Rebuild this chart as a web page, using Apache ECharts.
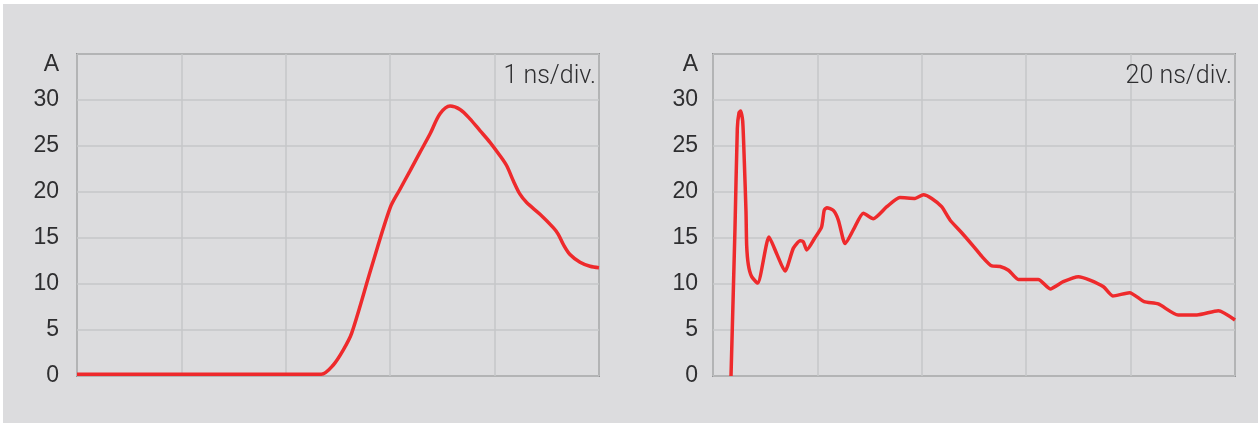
<!DOCTYPE html>
<html>
<head>
<meta charset="utf-8">
<script src="https://cdn.jsdelivr.net/npm/echarts@6/dist/echarts.min.js"></script>
<style>
html,body{margin:0;padding:0;background:#ffffff;}
#bg{position:absolute;left:3px;top:4px;width:1255px;height:419px;background:#dcdcde;}
#chart{position:absolute;left:0;top:0;width:1258px;height:423px;}
</style>
</head>
<body>
<div id="bg"></div>
<div id="chart"></div>
<script>
// Left panel: 1 ns/div
var leftTime    = [0, 2.34, 2.455, 2.551, 2.631, 2.82, 3.0, 3.094, 3.19, 3.285, 3.381, 3.477, 3.573, 3.669, 3.764, 3.86, 3.956, 4.052, 4.116, 4.18, 4.243, 4.307, 4.435, 4.562, 4.61, 4.658, 4.722, 4.818, 4.914, 5.0];
var leftCurrent = [0.2, 0.2, 1.2, 2.84, 4.66, 11.8, 18.3, 20.3, 22.3, 24.3, 26.3, 28.5, 29.35, 28.97, 27.95, 26.67, 25.4, 23.94, 22.85, 21.2, 19.76, 18.85, 17.58, 16.12, 15.4, 14.3, 13.2, 12.37, 11.93, 11.76];

// Right panel: 20 ns/div
var rightTime    = [3.45, 4.21, 4.66, 4.98, 5.3, 5.69, 6.0, 6.32, 6.45, 6.77, 7.41, 8.56, 10.73, 12.2, 13.8, 15.4, 16.7, 17.3, 17.95, 19.5, 20.8, 21.3, 21.8, 23.05, 24.0, 24.96, 25.3, 26.9, 28.8, 30.7, 33.3, 35.8, 38.7, 40.3, 41.9, 43.8, 45.4, 47.6, 49.9, 51.5, 53.4, 55.0, 56.6, 58.5, 62.3, 64.6, 67.1, 70.0, 72.2, 74.8, 76.6, 79.8, 82.6, 85.3, 89.1, 92.7, 96.8, 100];
var rightCurrent = [0, 16, 26.9, 28.6, 28.8, 27.7, 23.3, 17.9, 14.2, 12.1, 10.8, 10.1, 15.1, 13.3, 11.4, 13.9, 14.7, 14.6, 13.7, 15.0, 16.2, 18.0, 18.3, 18.0, 16.96, 14.8, 14.4, 15.9, 17.7, 17.1, 18.4, 19.4, 19.3, 19.7, 19.3, 18.4, 16.96, 15.6, 14.1, 13.0, 11.96, 11.9, 11.5, 10.5, 10.5, 9.46, 10.25, 10.8, 10.43, 9.7, 8.7, 9.06, 8.08, 7.83, 6.63, 6.63, 7.1, 6.09];

var yTicks = [0, 5, 10, 15, 20, 25, 30];
var unitLabel = 'A';
var panelLabels = ['1 ns/div.', '20 ns/div.'];
var xMax = [5, 100];
var xInterval = [1, 20];

function pairs(xs, ys) { return xs.map(function (x, i) { return [x, ys[i]]; }); }

var gridColor = '#c6c7c9';
var textColor = '#2e2e30';
var lineColor = '#ee2a2c';

function gridOpt(left) {
  return { left: left, top: 54, width: 522, height: 322, show: true, borderColor: '#5a5a5c', borderWidth: 1.5, backgroundColor: 'transparent', containLabel: false, outerBoundsMode: 'none' };
}
function xAxisOpt(idx) {
  return {
    type: 'value', gridIndex: idx, min: 0, max: xMax[idx], interval: xInterval[idx],
    axisLine: { show: false }, axisTick: { show: false }, axisLabel: { show: false },
    splitLine: { show: true, lineStyle: { color: gridColor, width: 1.5 } }
  };
}
function yAxisOpt(idx, margin) {
  return {
    type: 'value', gridIndex: idx, min: 0, max: 35, interval: 5,
    axisLine: { show: false }, axisTick: { show: false },
    axisLabel: {
      margin: margin, color: textColor, fontSize: 23, fontFamily: '"Liberation Sans", Arial, sans-serif',
      padding: [8, 0, 0, 0],
      formatter: function (v) { return yTicks.indexOf(v) >= 0 ? String(v) : ''; }
    },
    splitLine: { show: true, lineStyle: { color: gridColor, width: 1.5 } }
  };
}
function textEl(txt, x, y, font) {
  return { type: 'text', z: 100, x: x, y: y, style: { text: txt, fill: textColor, font: font, textAlign: 'right', textVerticalAlign: 'middle' } };
}

var chart = echarts.init(document.getElementById('chart'), null, { renderer: 'canvas' });
chart.setOption({
  backgroundColor: 'transparent',
  animation: false,
  grid: [gridOpt(77), gridOpt(713)],
  xAxis: [xAxisOpt(0), xAxisOpt(1)],
  yAxis: [yAxisOpt(0, 18), yAxisOpt(1, 15)],
  graphic: [
    textEl(unitLabel, 59, 65, '23px "Liberation Sans", Arial, sans-serif'),
    textEl(unitLabel, 698, 65, '23px "Liberation Sans", Arial, sans-serif'),
    textEl(panelLabels[0], 596, 77, '300 25px Roboto, "Liberation Sans", sans-serif'),
    textEl(panelLabels[1], 1232, 77, '300 25px Roboto, "Liberation Sans", sans-serif')
  ],
  series: [
    { type: 'line', xAxisIndex: 0, yAxisIndex: 0, data: pairs(leftTime, leftCurrent), showSymbol: false, smooth: 0.3, lineStyle: { color: lineColor, width: 3.5 }, z: 5 },
    { type: 'line', xAxisIndex: 1, yAxisIndex: 1, data: pairs(rightTime, rightCurrent), showSymbol: false, smooth: 0.2, lineStyle: { color: lineColor, width: 3.5 }, z: 5 }
  ]
});
</script>
</body>
</html>
